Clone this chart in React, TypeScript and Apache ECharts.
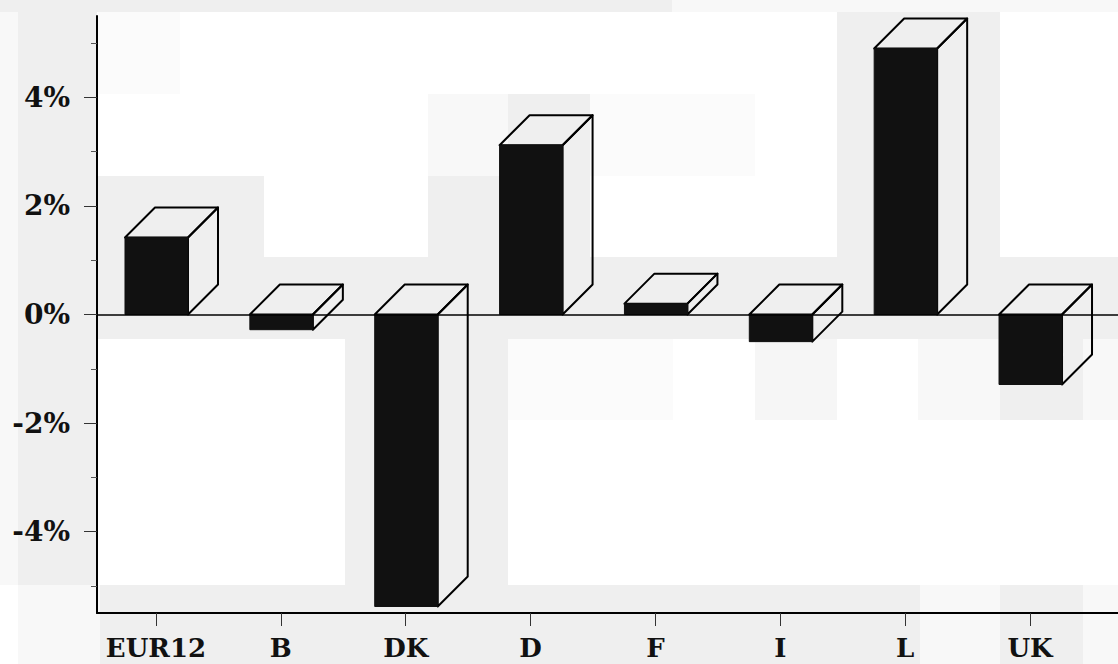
import React, { useEffect, useRef } from "react";
import * as echarts from "echarts";

const categories = ["EUR12", "B", "DK", "D", "F", "I", "L", "UK"];
const values = [1.42, -0.28, -5.38, 3.12, 0.2, -0.5, 4.9, -1.29];
const majorTicks = [-4, -2, 0, 2, 4];
const minorTicks = [-5, -3, -1, 1, 3, 5];
const categoryPositions = [0, 1, 2, 3, 4, 5, 6, 7];

const FONT = "'DejaVu Serif', serif";
const INK = "#111111";

// Scan-compression shading behind the plot: [x, y, w, h, colour]
const G = "#efefef";
const F = "#f8f8f8";
const blocks: [number, number, number, number, string][] = [
  [0, 0, 672, 12, G],
  [672, 0, 446, 12, F],
  [0, 12, 18, 573, F],
  [18, 12, 79, 573, G],
  [18, 585, 82, 79, F],
  [98, 176, 166, 81, G],
  [98, 257, 1020, 82, G],
  [98, 12, 82, 82, "#fbfbfb"],
  [428, 94, 80, 82, F],
  [508, 94, 82, 82, G],
  [428, 176, 162, 81, G],
  [590, 94, 165, 82, "#fbfbfb"],
  [837, 12, 163, 245, G],
  [345, 339, 163, 246, G],
  [508, 339, 165, 81, "#fbfbfb"],
  [755, 339, 82, 81, "#f6f6f6"],
  [918, 339, 82, 81, F],
  [1000, 339, 83, 81, G],
  [1083, 339, 35, 81, F],
  [100, 585, 820, 79, G],
  [920, 585, 80, 79, F],
  [1000, 585, 83, 79, G],
  [1083, 585, 35, 79, F],
];

function renderBar(_params: any, api: any) {
  const i = api.value(0);
  const v = api.value(1);
  const c = api.coord([i, v]);
  const z = api.coord([i, 0]);
  const d = 30;
  const l = c[0] - 31;
  const r = c[0] + 32;
  const top = Math.min(c[1], z[1]);
  const bottom = Math.max(c[1], z[1]);
  const edge = { stroke: "#000", lineWidth: 2, fill: "none", lineJoin: "round" };
  return {
    type: "group",
    children: [
      {
        type: "polygon",
        shape: { points: [[l, top], [l + d, top - d], [r + d, top - d], [r, top]] },
        style: edge,
      },
      {
        type: "polygon",
        shape: { points: [[r, top], [r + d, top - d], [r + d, bottom - d], [r, bottom]] },
        style: edge,
      },
      {
        type: "rect",
        shape: { x: l, y: top, width: r - l, height: bottom - top },
        style: { fill: INK, stroke: INK, lineWidth: 1 },
      },
    ],
  };
}

export default function App() {
  const ref = useRef<HTMLDivElement>(null);
  useEffect(() => {
    const chart = echarts.init(ref.current!, null, { renderer: "svg" });
    const xMin = -0.4725;
    const xMax = 7.7046;
    chart.setOption({
      animation: false,
      backgroundColor: "#ffffff",
      graphic: blocks.map(([x, y, width, height, fill]) => ({
        type: "rect",
        z: -10,
        silent: true,
        shape: { x, y, width, height },
        style: { fill },
      })),
      grid: { left: 97, top: 16, width: 1021, height: 597 },
      xAxis: {
        type: "value",
        min: xMin,
        max: xMax,
        splitLine: { show: false },
        axisLine: { onZero: false, lineStyle: { color: "#000", width: 2 } },
        axisTick: {
          customValues: categoryPositions,
          length: 13,
          lineStyle: { color: "#333", width: 1 },
        },
        axisLabel: {
          customValues: categoryPositions,
          formatter: (v: number) => categories[Math.round(v)] ?? "",
          margin: 22,
          color: "#111",
          fontFamily: FONT,
          fontWeight: "bold",
          fontSize: 26,
          hideOverlap: false,
        },
      },
      yAxis: [
        {
          type: "value",
          min: -5.5,
          max: 5.5,
          position: "left",
          splitLine: { show: false },
          axisLine: { onZero: false, lineStyle: { color: "#000", width: 2 } },
          axisTick: {
            customValues: majorTicks,
            length: 13,
            lineStyle: { color: "#333", width: 1 },
          },
          axisLabel: {
            customValues: majorTicks,
            formatter: (v: number) => `${v}%`,
            margin: 27,
            color: "#111",
            fontFamily: FONT,
            fontWeight: "bold",
            fontSize: 28,
            padding: [5, 0, 0, 0],
          },
        },
        {
          type: "value",
          min: -5.5,
          max: 5.5,
          position: "left",
          splitLine: { show: false },
          axisLine: { show: false, onZero: false },
          axisLabel: { show: false },
          axisTick: {
            customValues: minorTicks,
            length: 6,
            lineStyle: { color: "#555", width: 1 },
          },
        },
      ],
      series: [
        {
          type: "custom",
          renderItem: renderBar,
          data: values.map((v, i) => [categoryPositions[i], v]),
          encode: { x: 0, y: 1 },
          clip: false,
          silent: true,
          z: 3,
          markLine: {
            silent: true,
            symbol: "none",
            label: { show: false },
            lineStyle: { color: "#000", width: 1.5, type: "solid" },
            data: [{ yAxis: 0 }],
          },
        },
      ],
    });
    return () => chart.dispose();
  }, []);
  return (
    <div
      ref={ref}
      style={{ position: "absolute", left: 0, top: 0, width: 1118, height: 664 }}
    />
  );
}
